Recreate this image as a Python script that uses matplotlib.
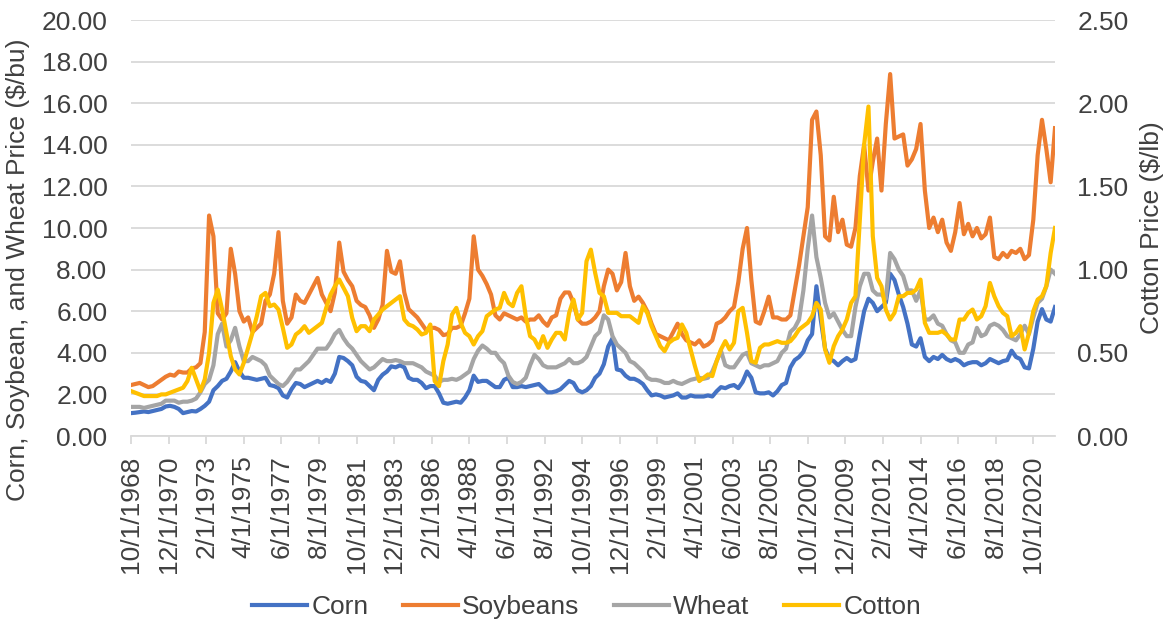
import matplotlib.pyplot as plt
import numpy as np
from matplotlib.ticker import FormatStrFormatter

plt.rcParams['font.family'] = ['Liberation Sans', 'DejaVu Sans']

# ---------- Quarterly prices, Oct 1968 .. Jan 2022 ----------
corn = [
    1.10,                      # Oct 1968
    1.12, 1.15, 1.18, 1.15,    # 1969
    1.20, 1.25, 1.30, 1.42,    # 1970
    1.45, 1.40, 1.30, 1.10,    # 1971
    1.15, 1.20, 1.18, 1.30,    # 1972
    1.45, 1.65, 2.20, 2.40,    # 1973
    2.65, 2.75, 3.10, 3.55,    # 1974
    3.10, 2.80, 2.80, 2.75,    # 1975
    2.70, 2.75, 2.80, 2.45,    # 1976
    2.40, 2.30, 1.95, 1.85,    # 1977
    2.25, 2.55, 2.50, 2.35,    # 1978
    2.45, 2.55, 2.65, 2.55,    # 1979
    2.70, 2.60, 3.00, 3.80,    # 1980
    3.75, 3.60, 3.40, 2.85,    # 1981
    2.65, 2.60, 2.40, 2.20,    # 1982
    2.70, 2.95, 3.10, 3.35,    # 1983
    3.30, 3.40, 3.30, 2.80,    # 1984
    2.70, 2.70, 2.55, 2.30,    # 1985
    2.40, 2.40, 2.05, 1.60,    # 1986
    1.55, 1.60, 1.65, 1.60,    # 1987
    1.85, 2.20, 2.90, 2.60,    # 1988
    2.65, 2.65, 2.50, 2.35,    # 1989
    2.35, 2.70, 2.80, 2.35,    # 1990
    2.35, 2.40, 2.35, 2.40,    # 1991
    2.45, 2.50, 2.30, 2.10,    # 1992
    2.10, 2.15, 2.25, 2.45,    # 1993
    2.65, 2.55, 2.20, 2.10,    # 1994
    2.20, 2.40, 2.80, 3.00,    # 1995
    3.45, 4.30, 4.70, 3.20,    # 1996
    3.15, 2.90, 2.75, 2.75,    # 1997
    2.65, 2.50, 2.20, 1.95,    # 1998
    2.00, 1.95, 1.85, 1.90,    # 1999
    1.95, 2.05, 1.85, 1.85,    # 2000
    1.95, 1.90, 1.90, 1.90,    # 2001
    1.95, 1.90, 2.15, 2.35,    # 2002
    2.30, 2.40, 2.45, 2.30,    # 2003
    2.60, 3.10, 2.80, 2.10,    # 2004
    2.05, 2.05, 2.10, 1.95,    # 2005
    2.15, 2.45, 2.55, 3.30,    # 2006
    3.65, 3.80, 4.05, 4.60,    # 2007
    4.90, 7.20, 5.60, 4.20,    # 2008
    3.70, 3.60, 3.40, 3.60,    # 2009
    3.75, 3.60, 3.70, 4.90,    # 2010
    6.00, 6.60, 6.40, 6.00,    # 2011
    6.20, 6.40, 7.80, 7.50,    # 2012
    6.80, 6.20, 5.40, 4.40,    # 2013
    4.30, 4.70, 3.80, 3.60,    # 2014
    3.80, 3.70, 3.90, 3.70,    # 2015
    3.60, 3.70, 3.60, 3.40,    # 2016
    3.50, 3.55, 3.55, 3.40,    # 2017
    3.50, 3.70, 3.60, 3.50,    # 2018
    3.60, 3.65, 4.10, 3.80,    # 2019
    3.70, 3.30, 3.25, 4.20,    # 2020
    5.50, 6.10, 5.60, 5.50,    # 2021
    6.20,                      # Jan 2022
]

soybeans = [
    2.45,
    2.50, 2.55, 2.45, 2.35,    # 1969
    2.40, 2.55, 2.70, 2.85,    # 1970
    2.95, 2.90, 3.10, 3.05,    # 1971
    3.05, 3.25, 3.30, 3.50,    # 1972
    5.00, 10.60, 9.60, 5.90,   # 1973
    5.60, 5.90, 9.00, 7.80,    # 1974
    6.00, 5.50, 5.70, 5.00,    # 1975
    5.20, 5.40, 6.50, 6.80,    # 1976
    7.80, 9.80, 6.50, 5.40,    # 1977
    5.70, 6.80, 6.50, 6.40,    # 1978
    6.80, 7.20, 7.60, 6.80,    # 1979
    6.40, 6.00, 6.90, 9.30,    # 1980
    7.90, 7.50, 7.20, 6.50,    # 1981
    6.30, 6.20, 5.80, 5.20,    # 1982
    5.60, 6.30, 8.90, 7.90,    # 1983
    7.80, 8.40, 6.90, 6.10,    # 1984
    5.90, 5.70, 5.40, 5.10,    # 1985
    5.20, 5.20, 5.10, 4.85,    # 1986
    4.90, 5.20, 5.20, 5.30,    # 1987
    5.90, 6.60, 9.60, 8.00,    # 1988
    7.70, 7.30, 6.80, 5.80,    # 1989
    5.60, 5.90, 5.80, 5.70,    # 1990
    5.60, 5.70, 5.50, 5.60,    # 1991
    5.60, 5.80, 5.50, 5.30,    # 1992
    5.70, 5.80, 6.60, 6.90,    # 1993
    6.90, 6.40, 5.60, 5.40,    # 1994
    5.40, 5.50, 5.70, 6.00,    # 1995
    7.20, 8.00, 7.80, 7.00,    # 1996
    7.40, 8.80, 7.20, 6.50,    # 1997
    6.70, 6.40, 6.00, 5.40,    # 1998
    4.90, 4.80, 4.70, 4.60,    # 1999
    5.00, 5.40, 4.90, 4.60,    # 2000
    4.50, 4.40, 4.60, 4.30,    # 2001
    4.40, 4.60, 5.40, 5.50,    # 2002
    5.70, 6.00, 6.20, 7.40,    # 2003
    9.00, 10.00, 7.50, 5.50,   # 2004
    5.40, 6.00, 6.70, 5.70,    # 2005
    5.70, 5.60, 5.60, 5.80,    # 2006
    7.00, 8.20, 9.60, 11.00,   # 2007
    15.20, 15.60, 13.50, 9.60, # 2008
    9.40, 11.50, 9.80, 10.40,  # 2009
    9.20, 9.10, 10.00, 12.50,  # 2010
    14.00, 11.80, 13.20, 14.30,  # 2011
    11.80, 15.00, 17.40, 14.30,  # 2012
    14.40, 14.50, 13.00, 13.30,  # 2013
    13.80, 15.00, 11.80, 10.00,  # 2014
    10.50, 9.80, 10.40, 9.30,  # 2015
    8.90, 9.80, 11.20, 9.70,   # 2016
    10.20, 9.60, 10.00, 9.50,  # 2017
    9.70, 10.50, 8.60, 8.50,   # 2018
    8.80, 8.60, 8.90, 8.80,    # 2019
    9.00, 8.50, 8.70, 10.40,   # 2020
    13.50, 15.20, 13.80, 12.20,  # 2021
    14.80,
]

wheat = [
    1.40,
    1.40, 1.40, 1.35, 1.40,    # 1969
    1.45, 1.50, 1.55, 1.70,    # 1970
    1.70, 1.70, 1.60, 1.65,    # 1971
    1.65, 1.70, 1.80, 2.10,    # 1972
    2.50, 2.70, 3.40, 4.90,    # 1973
    5.40, 4.30, 4.60, 5.20,    # 1974
    4.30, 3.60, 3.60, 3.80,    # 1975
    3.70, 3.60, 3.40, 2.90,    # 1976
    2.70, 2.50, 2.40, 2.60,    # 1977
    2.90, 3.20, 3.20, 3.40,    # 1978
    3.60, 3.90, 4.20, 4.20,    # 1979
    4.20, 4.50, 4.90, 5.10,    # 1980
    4.70, 4.40, 4.20, 3.90,    # 1981
    3.60, 3.40, 3.20, 3.30,    # 1982
    3.50, 3.70, 3.60, 3.60,    # 1983
    3.65, 3.60, 3.50, 3.50,    # 1984
    3.50, 3.40, 3.30, 3.10,    # 1985
    3.00, 2.90, 2.60, 2.70,    # 1986
    2.70, 2.75, 2.70, 2.80,    # 1987
    2.95, 3.10, 3.70, 4.10,    # 1988
    4.35, 4.20, 4.00, 4.00,    # 1989
    3.70, 3.50, 2.90, 2.60,    # 1990
    2.50, 2.60, 2.80, 3.40,    # 1991
    3.90, 3.70, 3.40, 3.30,    # 1992
    3.30, 3.30, 3.40, 3.50,    # 1993
    3.70, 3.50, 3.50, 3.60,    # 1994
    3.80, 4.30, 4.80, 5.00,    # 1995
    5.80, 5.60, 4.80, 4.40,    # 1996
    4.20, 4.00, 3.60, 3.50,    # 1997
    3.30, 3.10, 2.80, 2.70,    # 1998
    2.70, 2.65, 2.55, 2.55,    # 1999
    2.65, 2.55, 2.50, 2.60,    # 2000
    2.70, 2.75, 2.80, 2.75,    # 2001
    2.80, 3.10, 3.60, 4.10,    # 2002
    3.40, 3.30, 3.30, 3.60,    # 2003
    3.90, 4.00, 3.50, 3.40,    # 2004
    3.30, 3.40, 3.40, 3.50,    # 2005
    3.60, 4.00, 4.20, 5.00,    # 2006
    5.20, 5.60, 7.00, 9.00,    # 2007
    10.60, 8.60, 7.60, 6.40,   # 2008
    5.70, 5.90, 5.50, 5.10,    # 2009
    4.80, 4.80, 6.20, 7.20,    # 2010
    7.80, 7.80, 7.00, 6.80,    # 2011
    6.80, 6.60, 8.80, 8.50,    # 2012
    8.00, 7.70, 7.00, 7.00,    # 2013
    6.50, 7.00, 5.60, 5.60,    # 2014
    5.80, 5.40, 5.30, 4.90,    # 2015
    4.60, 4.50, 4.00, 4.00,    # 2016
    4.40, 4.50, 5.20, 4.80,    # 2017
    4.90, 5.30, 5.40, 5.30,    # 2018
    5.10, 4.80, 4.70, 4.60,    # 2019
    4.90, 5.30, 4.90, 5.70,    # 2020
    6.40, 6.60, 7.20, 8.00,    # 2021
    7.80,
]

# $/lb, right axis
cotton = [
    0.27,
    0.26, 0.25, 0.24, 0.24,    # 1969
    0.24, 0.24, 0.25, 0.25,    # 1970
    0.26, 0.27, 0.28, 0.29,    # 1971
    0.33, 0.41, 0.34, 0.27,    # 1972
    0.34, 0.50, 0.80, 0.88,    # 1973
    0.76, 0.62, 0.48, 0.40,    # 1974
    0.37, 0.44, 0.53, 0.62,    # 1975
    0.72, 0.84, 0.86, 0.78,    # 1976
    0.79, 0.76, 0.65, 0.53,    # 1977
    0.55, 0.61, 0.63, 0.66,    # 1978
    0.62, 0.64, 0.66, 0.68,    # 1979
    0.77, 0.85, 0.90, 0.94,    # 1980
    0.89, 0.84, 0.71, 0.63,    # 1981
    0.66, 0.66, 0.63, 0.70,    # 1982
    0.73, 0.76, 0.78, 0.80,    # 1983
    0.82, 0.84, 0.70, 0.67,    # 1984
    0.66, 0.64, 0.61, 0.62,    # 1985
    0.67, 0.33, 0.30, 0.45,    # 1986
    0.55, 0.73, 0.77, 0.68,    # 1987
    0.62, 0.60, 0.55, 0.60,    # 1988
    0.63, 0.72, 0.74, 0.76,    # 1989
    0.77, 0.86, 0.80, 0.78,    # 1990
    0.86, 0.90, 0.72, 0.60,    # 1991
    0.58, 0.53, 0.60, 0.53,    # 1992
    0.58, 0.62, 0.62, 0.58,    # 1993
    0.74, 0.82, 0.70, 0.74,    # 1994
    1.05, 1.12, 0.98, 0.86,    # 1995
    0.84, 0.74, 0.74, 0.74,    # 1996
    0.72, 0.72, 0.72, 0.70,    # 1997
    0.68, 0.78, 0.74, 0.66,    # 1998
    0.60, 0.54, 0.51, 0.56,    # 1999
    0.58, 0.59, 0.67, 0.62,    # 2000
    0.52, 0.42, 0.33, 0.35,    # 2001
    0.37, 0.36, 0.45, 0.52,    # 2002
    0.57, 0.52, 0.56, 0.75,    # 2003
    0.77, 0.62, 0.45, 0.44,    # 2004
    0.53, 0.55, 0.55, 0.56,    # 2005
    0.57, 0.56, 0.56, 0.57,    # 2006
    0.60, 0.64, 0.66, 0.68,    # 2007
    0.72, 0.80, 0.76, 0.52,    # 2008
    0.44, 0.54, 0.60, 0.64,    # 2009
    0.70, 0.80, 0.84, 1.30,    # 2010
    1.75, 1.98, 1.20, 0.95,    # 2011
    0.90, 0.76, 0.70, 0.74,    # 2012
    0.84, 0.84, 0.86, 0.86,    # 2013
    0.88, 0.94, 0.68, 0.62,    # 2014
    0.62, 0.62, 0.63, 0.61,    # 2015
    0.58, 0.58, 0.70, 0.70,    # 2016
    0.74, 0.76, 0.70, 0.72,    # 2017
    0.78, 0.92, 0.84, 0.78,    # 2018
    0.74, 0.72, 0.60, 0.62,    # 2019
    0.66, 0.52, 0.62, 0.75,    # 2020
    0.82, 0.84, 0.90, 1.10,    # 2021
    1.25,
]

tick_labels = ['10/1/1968', '12/1/1970', '2/1/1973', '4/1/1975', '6/1/1977',
               '8/1/1979', '10/1/1981', '12/1/1983', '2/1/1986', '4/1/1988',
               '6/1/1990', '8/1/1992', '10/1/1994', '12/1/1996', '2/1/1999',
               '4/1/2001', '6/1/2003', '8/1/2005', '10/1/2007', '12/1/2009',
               '2/1/2012', '4/1/2014', '6/1/2016', '8/1/2018', '10/1/2020']

# month index since Oct 1968, one point per quarter
months = np.arange(len(corn)) * 3
tick_pos = np.arange(len(tick_labels)) * 26

txt = '#404040'
grid = '#D9D9D9'
lw = 3.0

fig = plt.figure(figsize=(11.73, 6.24), dpi=100)
ax = fig.add_axes([131 / 1173, 1 - 436 / 624, (1055 - 131) / 1173, 416 / 624])

ax.plot(months, corn, color='#4472C4', lw=lw, label='Corn')
ax.plot(months, soybeans, color='#ED7D31', lw=lw, label='Soybeans')
ax.plot(months, wheat, color='#A5A5A5', lw=lw, label='Wheat')

ax2 = ax.twinx()
ax2.plot(months, cotton, color='#FFC000', lw=lw, label='Cotton')

ax.set_xlim(0, months[-1])
ax.set_ylim(0, 20)
ax2.set_ylim(0, 2.5)
ax.set_yticks(np.arange(0, 21, 2))
ax2.set_yticks(np.arange(0, 2.51, 0.5))
ax.yaxis.set_major_formatter(FormatStrFormatter('%.2f'))
ax2.yaxis.set_major_formatter(FormatStrFormatter('%.2f'))

ax.set_axisbelow(True)
ax.grid(axis='y', color=grid, lw=1.3)

for s in ['top', 'left', 'right']:
    ax.spines[s].set_visible(False)
ax.spines['bottom'].set_color(grid)
ax.spines['bottom'].set_linewidth(1.3)
for s in ax2.spines.values():
    s.set_visible(False)

ax.set_xticks(tick_pos)
ax.set_xticklabels(tick_labels, rotation=90)
ax.tick_params(axis='x', length=6, width=1.3, color=grid, labelsize=19,
               labelcolor=txt, pad=8)
ax.tick_params(axis='y', length=0, labelsize=19, labelcolor=txt, pad=17)
ax2.tick_params(axis='y', length=0, labelsize=19, labelcolor=txt, pad=16)

ax.set_ylabel('Corn, Soybean, and Wheat Price ($/bu)', fontsize=19, color=txt)
ax.yaxis.set_label_coords(-0.109, 0.40)
ax2.set_ylabel('Cotton Price ($/lb)', fontsize=19, color=txt)
ax2.yaxis.set_label_coords(1.092, 0.5)

h1, l1 = ax.get_legend_handles_labels()
h2, l2 = ax2.get_legend_handles_labels()
fig.legend(h1 + h2, l1 + l2, loc='center', bbox_to_anchor=(0.5, 0.027),
           ncol=4, frameon=False, fontsize=19, handlelength=2.1,
           handletextpad=0.15, columnspacing=1.3, labelcolor=txt)

fig.savefig('out.png', dpi=100)
